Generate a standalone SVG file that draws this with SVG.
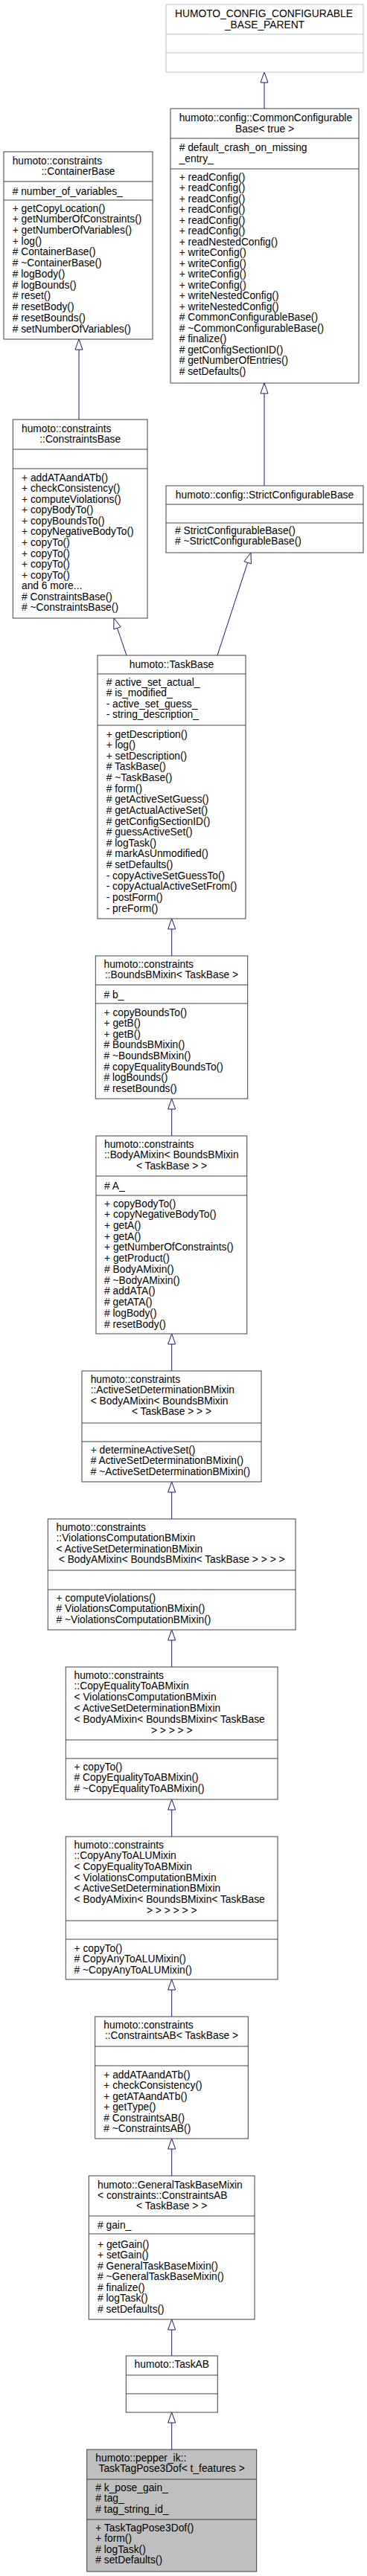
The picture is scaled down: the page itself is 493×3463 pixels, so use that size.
<svg xmlns="http://www.w3.org/2000/svg" width="493" height="3463" viewBox="0 0 493 3463">
<style>
.bg{fill:#ffffff}
.box{fill:#ffffff;stroke:#404040;stroke-width:1}
.boxg{fill:#bfbfbf;stroke:#404040;stroke-width:1}
.boxx{fill:#ffffff;stroke:#bfbfbf;stroke-width:1}
.dv{stroke:#404040;stroke-width:1}
.dvx{stroke:#bfbfbf;stroke-width:1}
text{font-family:"Liberation Sans",Arial,Helvetica,sans-serif;font-size:13.8px;fill:#000000}
.c{text-anchor:middle}
.e{fill:none;stroke:#191970;stroke-width:1}
.ah{fill:#ffffff;stroke:#191970;stroke-width:1}
</style>
<rect class="bg" x="0" y="0" width="493" height="3463"/>

<g id="connectors">
  <line class="e" x1="355" y1="146" x2="355" y2="111"/>
  <polygon class="ah" points="355,97 350,111 360,111"/>
  <line class="e" x1="355" y1="653" x2="355" y2="529"/>
  <polygon class="ah" points="355,515 350,529 360,529"/>
  <line class="e" x1="106" y1="564" x2="106" y2="470"/>
  <polygon class="ah" points="106,456 101,470 111,470"/>
  <line class="e" x1="170" y1="881" x2="157.5" y2="844.3"/>
  <polygon class="ah" points="153,831 162.2,842.7 152.8,845.9"/>
  <line class="e" x1="292" y1="881" x2="332.7" y2="756.3"/>
  <polygon class="ah" points="337,743 337.4,757.9 327.9,754.8"/>
  <line class="e" x1="230.7" y1="1285" x2="230.7" y2="1249"/>
  <polygon class="ah" points="230.7,1235 225.7,1249 235.7,1249"/>
  <line class="e" x1="230.7" y1="1527" x2="230.7" y2="1491"/>
  <polygon class="ah" points="230.7,1477 225.7,1491 235.7,1491"/>
  <line class="e" x1="230.7" y1="1843" x2="230.7" y2="1807"/>
  <polygon class="ah" points="230.7,1793 225.7,1807 235.7,1807"/>
  <line class="e" x1="230.7" y1="2042" x2="230.7" y2="2006"/>
  <polygon class="ah" points="230.7,1992 225.7,2006 235.7,2006"/>
  <line class="e" x1="230.7" y1="2241" x2="230.7" y2="2205"/>
  <polygon class="ah" points="230.7,2191 225.7,2205 235.7,2205"/>
  <line class="e" x1="230.7" y1="2469" x2="230.7" y2="2433"/>
  <polygon class="ah" points="230.7,2419 225.7,2433 235.7,2433"/>
  <line class="e" x1="230.7" y1="2711" x2="230.7" y2="2675"/>
  <polygon class="ah" points="230.7,2661 225.7,2675 235.7,2675"/>
  <line class="e" x1="230.7" y1="2925" x2="230.7" y2="2889"/>
  <polygon class="ah" points="230.7,2875 225.7,2889 235.7,2889"/>
  <line class="e" x1="230.7" y1="3167" x2="230.7" y2="3132"/>
  <polygon class="ah" points="230.7,3118 225.7,3132 235.7,3132"/>
  <line class="e" x1="230.7" y1="3293" x2="230.7" y2="3257"/>
  <polygon class="ah" points="230.7,3243 225.7,3257 235.7,3257"/>
</g>

<g id="node-humoto-config-parent">
  <rect class="boxx" x="223" y="6" width="265" height="91"/>
  <line class="dvx" x1="223" y1="46" x2="488" y2="46"/>
  <line class="dvx" x1="223" y1="71" x2="488" y2="71"/>
  <text x="235" y="22.8">HUMOTO_CONFIG_CONFIGURABLE</text>
  <text class="c" x="355.5" y="37.8">_BASE_PARENT</text>
</g>

<g id="node-common-configurable-base">
  <rect class="box" x="229" y="146" width="253" height="369"/>
  <line class="dv" x1="229" y1="186" x2="482" y2="186"/>
  <line class="dv" x1="229" y1="227" x2="482" y2="227"/>
  <text x="240.7" y="162.8">humoto::config::CommonConfigurable</text>
  <text class="c" x="355.5" y="177.8">Base&lt; true &gt;</text>
  <text x="240.7" y="202.8">
    <tspan x="240.7"># default_crash_on_missing</tspan>
    <tspan x="240.7" dy="15">_entry_</tspan>
  </text>
  <text x="240.7" y="242.8">
    <tspan x="240.7">+ readConfig()</tspan>
    <tspan x="240.7" dy="14.5">+ readConfig()</tspan>
    <tspan x="240.7" dy="14.5">+ readConfig()</tspan>
    <tspan x="240.7" dy="14.5">+ readConfig()</tspan>
    <tspan x="240.7" dy="14.5">+ readConfig()</tspan>
    <tspan x="240.7" dy="14.5">+ readConfig()</tspan>
    <tspan x="240.7" dy="14.5">+ readNestedConfig()</tspan>
    <tspan x="240.7" dy="14.5">+ writeConfig()</tspan>
    <tspan x="240.7" dy="14.5">+ writeConfig()</tspan>
    <tspan x="240.7" dy="14.5">+ writeConfig()</tspan>
    <tspan x="240.7" dy="14.5">+ writeConfig()</tspan>
    <tspan x="240.7" dy="14.5">+ writeNestedConfig()</tspan>
    <tspan x="240.7" dy="14.5">+ writeNestedConfig()</tspan>
    <tspan x="240.7" dy="14.5"># CommonConfigurableBase()</tspan>
    <tspan x="240.7" dy="14.5"># ~CommonConfigurableBase()</tspan>
    <tspan x="240.7" dy="14.5"># finalize()</tspan>
    <tspan x="240.7" dy="14.5"># getConfigSectionID()</tspan>
    <tspan x="240.7" dy="14.5"># getNumberOfEntries()</tspan>
    <tspan x="240.7" dy="14.5"># setDefaults()</tspan>
  </text>
</g>

<g id="node-strict-configurable-base">
  <rect class="box" x="223" y="653" width="265" height="90"/>
  <line class="dv" x1="223" y1="678" x2="488" y2="678"/>
  <line class="dv" x1="223" y1="703" x2="488" y2="703"/>
  <text class="c" x="355.5" y="669.5">humoto::config::StrictConfigurableBase</text>
  <text x="235" y="717.5">
    <tspan x="235"># StrictConfigurableBase()</tspan>
    <tspan x="235" dy="14.6"># ~StrictConfigurableBase()</tspan>
  </text>
</g>

<g id="node-container-base">
  <rect class="box" x="5" y="204" width="200" height="252"/>
  <line class="dv" x1="5" y1="244" x2="205" y2="244"/>
  <line class="dv" x1="5" y1="269" x2="205" y2="269"/>
  <text x="16.7" y="220.5">humoto::constraints</text>
  <text class="c" x="105" y="234.5">::ContainerBase</text>
  <text x="16.7" y="261.5"># number_of_variables_</text>
  <text x="16.7" y="284.5">
    <tspan x="16.7">+ getCopyLocation()</tspan>
    <tspan x="16.7" dy="14.73">+ getNumberOfConstraints()</tspan>
    <tspan x="16.7" dy="14.73">+ getNumberOfVariables()</tspan>
    <tspan x="16.7" dy="14.73">+ log()</tspan>
    <tspan x="16.7" dy="14.73"># ContainerBase()</tspan>
    <tspan x="16.7" dy="14.73"># ~ContainerBase()</tspan>
    <tspan x="16.7" dy="14.73"># logBody()</tspan>
    <tspan x="16.7" dy="14.73"># logBounds()</tspan>
    <tspan x="16.7" dy="14.73"># reset()</tspan>
    <tspan x="16.7" dy="14.73"># resetBody()</tspan>
    <tspan x="16.7" dy="14.73"># resetBounds()</tspan>
    <tspan x="16.7" dy="14.73"># setNumberOfVariables()</tspan>
  </text>
</g>

<g id="node-constraints-base">
  <rect class="box" x="17.3" y="564" width="180.7" height="267"/>
  <line class="dv" x1="17.3" y1="604" x2="198" y2="604"/>
  <line class="dv" x1="17.3" y1="630" x2="198" y2="630"/>
  <text x="29" y="580.5">humoto::constraints</text>
  <text class="c" x="107.7" y="594.5">::ConstraintsBase</text>
  <text x="29" y="646.5">
    <tspan x="29">+ addATAandATb()</tspan>
    <tspan x="29" dy="14.58">+ checkConsistency()</tspan>
    <tspan x="29" dy="14.58">+ computeViolations()</tspan>
    <tspan x="29" dy="14.58">+ copyBodyTo()</tspan>
    <tspan x="29" dy="14.58">+ copyBoundsTo()</tspan>
    <tspan x="29" dy="14.58">+ copyNegativeBodyTo()</tspan>
    <tspan x="29" dy="14.58">+ copyTo()</tspan>
    <tspan x="29" dy="14.58">+ copyTo()</tspan>
    <tspan x="29" dy="14.58">+ copyTo()</tspan>
    <tspan x="29" dy="14.58">+ copyTo()</tspan>
    <tspan x="29" dy="14.58">and 6 more...</tspan>
    <tspan x="29" dy="14.58"># ConstraintsBase()</tspan>
    <tspan x="29" dy="14.58"># ~ConstraintsBase()</tspan>
  </text>
</g>

<g id="node-task-base">
  <rect class="box" x="131" y="881" width="199" height="354"/>
  <line class="dv" x1="131" y1="906" x2="330" y2="906"/>
  <line class="dv" x1="131" y1="975" x2="330" y2="975"/>
  <text class="c" x="230.5" y="897.5">humoto::TaskBase</text>
  <text x="142.7" y="921.5">
    <tspan x="142.7"># active_set_actual_</tspan>
    <tspan x="142.7" dy="14.6"># is_modified_</tspan>
    <tspan x="142.7" dy="14.6">- active_set_guess_</tspan>
    <tspan x="142.7" dy="14.6">- string_description_</tspan>
  </text>
  <text x="142.7" y="991.5">
    <tspan x="142.7">+ getDescription()</tspan>
    <tspan x="142.7" dy="14.63">+ log()</tspan>
    <tspan x="142.7" dy="14.63">+ setDescription()</tspan>
    <tspan x="142.7" dy="14.63"># TaskBase()</tspan>
    <tspan x="142.7" dy="14.63"># ~TaskBase()</tspan>
    <tspan x="142.7" dy="14.63"># form()</tspan>
    <tspan x="142.7" dy="14.63"># getActiveSetGuess()</tspan>
    <tspan x="142.7" dy="14.63"># getActualActiveSet()</tspan>
    <tspan x="142.7" dy="14.63"># getConfigSectionID()</tspan>
    <tspan x="142.7" dy="14.63"># guessActiveSet()</tspan>
    <tspan x="142.7" dy="14.63"># logTask()</tspan>
    <tspan x="142.7" dy="14.63"># markAsUnmodified()</tspan>
    <tspan x="142.7" dy="14.63"># setDefaults()</tspan>
    <tspan x="142.7" dy="14.63">- copyActiveSetGuessTo()</tspan>
    <tspan x="142.7" dy="14.63">- copyActualActiveSetFrom()</tspan>
    <tspan x="142.7" dy="14.63">- postForm()</tspan>
    <tspan x="142.7" dy="14.63">- preForm()</tspan>
  </text>
</g>

<g id="node-bounds-b-mixin">
  <rect class="box" x="128.3" y="1285" width="204.4" height="192"/>
  <line class="dv" x1="128.3" y1="1324" x2="332.7" y2="1324"/>
  <line class="dv" x1="128.3" y1="1349" x2="332.7" y2="1349"/>
  <text x="139.5" y="1300.5">humoto::constraints</text>
  <text class="c" x="230.5" y="1314.5">::BoundsBMixin&lt; TaskBase &gt;</text>
  <text x="139.5" y="1341.5"># b_</text>
  <text x="139.5" y="1365.5">
    <tspan x="139.5">+ copyBoundsTo()</tspan>
    <tspan x="139.5" dy="14.6">+ getB()</tspan>
    <tspan x="139.5" dy="14.6">+ getB()</tspan>
    <tspan x="139.5" dy="14.6"># BoundsBMixin()</tspan>
    <tspan x="139.5" dy="14.6"># ~BoundsBMixin()</tspan>
    <tspan x="139.5" dy="14.6"># copyEqualityBoundsTo()</tspan>
    <tspan x="139.5" dy="14.6"># logBounds()</tspan>
    <tspan x="139.5" dy="14.6"># resetBounds()</tspan>
  </text>
</g>

<g id="node-body-a-mixin">
  <rect class="box" x="129" y="1527" width="202.7" height="266"/>
  <line class="dv" x1="129" y1="1581" x2="331.7" y2="1581"/>
  <line class="dv" x1="129" y1="1607" x2="331.7" y2="1607"/>
  <text x="140" y="1542.5">
    <tspan x="140">humoto::constraints</tspan>
    <tspan x="140" dy="14.8">::BodyAMixin&lt; BoundsBMixin</tspan>
  </text>
  <text class="c" x="230.5" y="1572">&lt; TaskBase &gt; &gt;</text>
  <text x="140" y="1598.5"># A_</text>
  <text x="140" y="1622.5">
    <tspan x="140">+ copyBodyTo()</tspan>
    <tspan x="140" dy="14.73">+ copyNegativeBodyTo()</tspan>
    <tspan x="140" dy="14.73">+ getA()</tspan>
    <tspan x="140" dy="14.73">+ getA()</tspan>
    <tspan x="140" dy="14.73">+ getNumberOfConstraints()</tspan>
    <tspan x="140" dy="14.73">+ getProduct()</tspan>
    <tspan x="140" dy="14.73"># BodyAMixin()</tspan>
    <tspan x="140" dy="14.73"># ~BodyAMixin()</tspan>
    <tspan x="140" dy="14.73"># addATA()</tspan>
    <tspan x="140" dy="14.73"># getATA()</tspan>
    <tspan x="140" dy="14.73"># logBody()</tspan>
    <tspan x="140" dy="14.73"># resetBody()</tspan>
  </text>
</g>

<g id="node-active-set-determination">
  <rect class="box" x="110" y="1843" width="241" height="149"/>
  <line class="dv" x1="110" y1="1913" x2="351" y2="1913"/>
  <line class="dv" x1="110" y1="1938" x2="351" y2="1938"/>
  <text x="121.7" y="1858.5">
    <tspan x="121.7">humoto::constraints</tspan>
    <tspan x="121.7" dy="14.6">::ActiveSetDeterminationBMixin</tspan>
    <tspan x="121.7" dy="14.6">&lt; BodyAMixin&lt; BoundsBMixin</tspan>
  </text>
  <text class="c" x="230.5" y="1902.3">&lt; TaskBase &gt; &gt; &gt;</text>
  <text x="121.7" y="1953.5">
    <tspan x="121.7">+ determineActiveSet()</tspan>
    <tspan x="121.7" dy="14.6"># ActiveSetDeterminationBMixin()</tspan>
    <tspan x="121.7" dy="14.6"># ~ActiveSetDeterminationBMixin()</tspan>
  </text>
</g>

<g id="node-violations-computation">
  <rect class="box" x="64.3" y="2042" width="332.7" height="149"/>
  <line class="dv" x1="64.3" y1="2111" x2="397" y2="2111"/>
  <line class="dv" x1="64.3" y1="2137" x2="397" y2="2137"/>
  <text x="75.5" y="2057.5">
    <tspan x="75.5">humoto::constraints</tspan>
    <tspan x="75.5" dy="14.6">::ViolationsComputationBMixin</tspan>
    <tspan x="75.5" dy="14.6">&lt; ActiveSetDeterminationBMixin</tspan>
  </text>
  <text class="c" x="230.7" y="2101.3">&lt; BodyAMixin&lt; BoundsBMixin&lt; TaskBase &gt; &gt; &gt; &gt;</text>
  <text x="75.5" y="2152.5">
    <tspan x="75.5">+ computeViolations()</tspan>
    <tspan x="75.5" dy="14.6"># ViolationsComputationBMixin()</tspan>
    <tspan x="75.5" dy="14.6"># ~ViolationsComputationBMixin()</tspan>
  </text>
</g>

<g id="node-copy-equality-to-ab">
  <rect class="box" x="88.3" y="2241" width="284.7" height="178"/>
  <line class="dv" x1="88.3" y1="2339" x2="373" y2="2339"/>
  <line class="dv" x1="88.3" y1="2364" x2="373" y2="2364"/>
  <text x="99.5" y="2256.5">
    <tspan x="99.5">humoto::constraints</tspan>
    <tspan x="99.5" dy="14.8">::CopyEqualityToABMixin</tspan>
    <tspan x="99.5" dy="14.8">&lt; ViolationsComputationBMixin</tspan>
    <tspan x="99.5" dy="14.8">&lt; ActiveSetDeterminationBMixin</tspan>
    <tspan x="99.5" dy="14.8">&lt; BodyAMixin&lt; BoundsBMixin&lt; TaskBase</tspan>
  </text>
  <text class="c" x="230.7" y="2330.5">&gt; &gt; &gt; &gt; &gt;</text>
  <text x="99.5" y="2379.5">
    <tspan x="99.5">+ copyTo()</tspan>
    <tspan x="99.5" dy="14.6"># CopyEqualityToABMixin()</tspan>
    <tspan x="99.5" dy="14.6"># ~CopyEqualityToABMixin()</tspan>
  </text>
</g>

<g id="node-copy-any-to-alu">
  <rect class="box" x="88.3" y="2469" width="284.7" height="192"/>
  <line class="dv" x1="88.3" y1="2582" x2="373" y2="2582"/>
  <line class="dv" x1="88.3" y1="2607" x2="373" y2="2607"/>
  <text x="99.5" y="2484.5">
    <tspan x="99.5">humoto::constraints</tspan>
    <tspan x="99.5" dy="14.67">::CopyAnyToALUMixin</tspan>
    <tspan x="99.5" dy="14.67">&lt; CopyEqualityToABMixin</tspan>
    <tspan x="99.5" dy="14.67">&lt; ViolationsComputationBMixin</tspan>
    <tspan x="99.5" dy="14.67">&lt; ActiveSetDeterminationBMixin</tspan>
    <tspan x="99.5" dy="14.67">&lt; BodyAMixin&lt; BoundsBMixin&lt; TaskBase</tspan>
  </text>
  <text class="c" x="230.7" y="2572.5">&gt; &gt; &gt; &gt; &gt; &gt;</text>
  <text x="99.5" y="2623.5">
    <tspan x="99.5">+ copyTo()</tspan>
    <tspan x="99.5" dy="14.5"># CopyAnyToALUMixin()</tspan>
    <tspan x="99.5" dy="14.5"># ~CopyAnyToALUMixin()</tspan>
  </text>
</g>

<g id="node-constraints-ab">
  <rect class="box" x="127.7" y="2711" width="205.6" height="164"/>
  <line class="dv" x1="127.7" y1="2751" x2="333.3" y2="2751"/>
  <line class="dv" x1="127.7" y1="2777" x2="333.3" y2="2777"/>
  <text x="139.3" y="2726.5">humoto::constraints</text>
  <text class="c" x="230.5" y="2741">::ConstraintsAB&lt; TaskBase &gt;</text>
  <text x="139.3" y="2793.5">
    <tspan x="139.3">+ addATAandATb()</tspan>
    <tspan x="139.3" dy="14.5">+ checkConsistency()</tspan>
    <tspan x="139.3" dy="14.5">+ getATAandATb()</tspan>
    <tspan x="139.3" dy="14.5">+ getType()</tspan>
    <tspan x="139.3" dy="14.5"># ConstraintsAB()</tspan>
    <tspan x="139.3" dy="14.5"># ~ConstraintsAB()</tspan>
  </text>
</g>

<g id="node-general-task-base-mixin">
  <rect class="box" x="119.3" y="2925" width="222.7" height="193"/>
  <line class="dv" x1="119.3" y1="2979" x2="342" y2="2979"/>
  <line class="dv" x1="119.3" y1="3003" x2="342" y2="3003"/>
  <text x="131" y="2941.5">
    <tspan x="131">humoto::GeneralTaskBaseMixin</tspan>
    <tspan x="131" dy="14.3">&lt; constraints::ConstraintsAB</tspan>
  </text>
  <text class="c" x="230.7" y="2970">&lt; TaskBase &gt; &gt;</text>
  <text x="131" y="2995.5"># gain_</text>
  <text x="131" y="3021.5">
    <tspan x="131">+ getGain()</tspan>
    <tspan x="131" dy="14.5">+ setGain()</tspan>
    <tspan x="131" dy="14.5"># GeneralTaskBaseMixin()</tspan>
    <tspan x="131" dy="14.5"># ~GeneralTaskBaseMixin()</tspan>
    <tspan x="131" dy="14.5"># finalize()</tspan>
    <tspan x="131" dy="14.5"># logTask()</tspan>
    <tspan x="131" dy="14.5"># setDefaults()</tspan>
  </text>
</g>

<g id="node-task-ab">
  <rect class="box" x="169.3" y="3167" width="123" height="76"/>
  <line class="dv" x1="169.3" y1="3193" x2="292.3" y2="3193"/>
  <line class="dv" x1="169.3" y1="3218" x2="292.3" y2="3218"/>
  <text class="c" x="230.8" y="3182.5">humoto::TaskAB</text>
</g>

<g id="node-task-tag-pose-3dof">
  <rect class="boxg" x="116.7" y="3293" width="228" height="164"/>
  <line class="dv" x1="116.7" y1="3333" x2="344.7" y2="3333"/>
  <line class="dv" x1="116.7" y1="3387" x2="344.7" y2="3387"/>
  <text x="128.3" y="3308.5">humoto::pepper_ik::</text>
  <text class="c" x="230.7" y="3322.5">TaskTagPose3Dof&lt; t_features &gt;</text>
  <text x="128.3" y="3348.5">
    <tspan x="128.3"># k_pose_gain_</tspan>
    <tspan x="128.3" dy="14.5"># tag_</tspan>
    <tspan x="128.3" dy="14.5"># tag_string_id_</tspan>
  </text>
  <text x="128.3" y="3402.5">
    <tspan x="128.3">+ TaskTagPose3Dof()</tspan>
    <tspan x="128.3" dy="14.5">+ form()</tspan>
    <tspan x="128.3" dy="14.5"># logTask()</tspan>
    <tspan x="128.3" dy="14.5"># setDefaults()</tspan>
  </text>
</g>
</svg>
